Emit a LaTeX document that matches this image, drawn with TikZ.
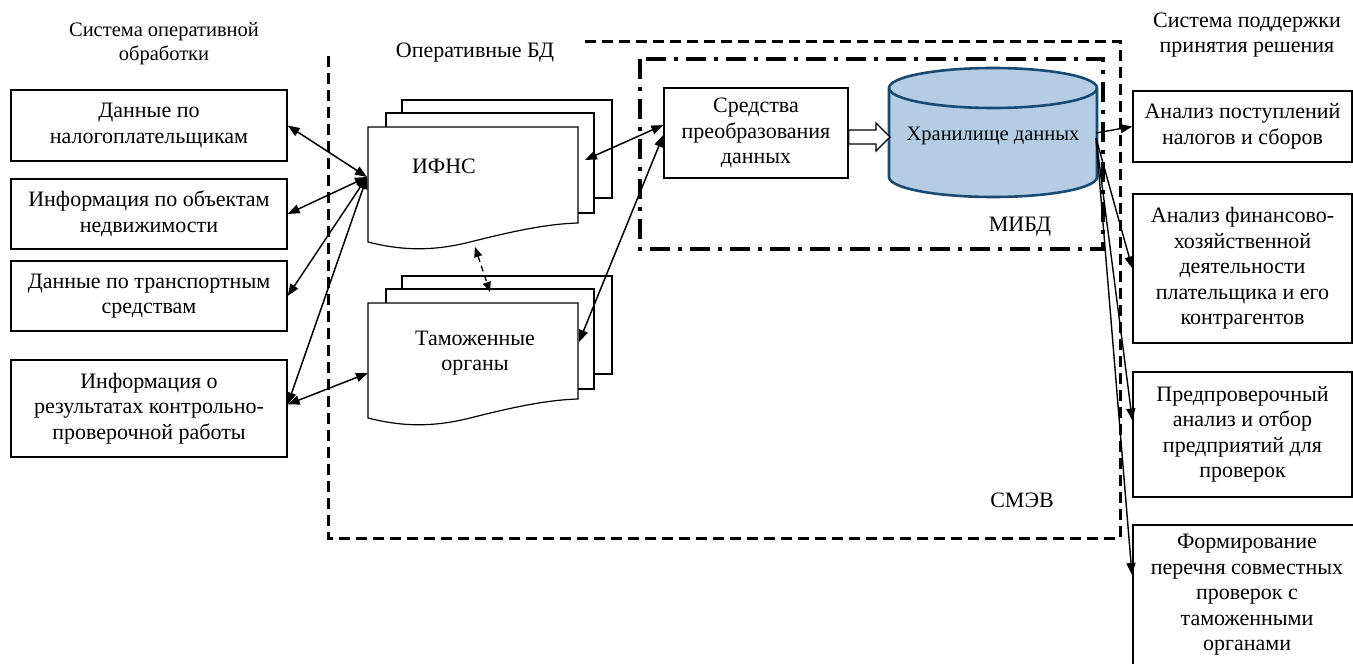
\documentclass[tikz,border=0pt]{standalone}
\usepackage{fontspec}
\setmainfont{Liberation Serif}
\usetikzlibrary{arrows.meta}
\definecolor{cylfill}{HTML}{B4CDE4}
\definecolor{cylline}{HTML}{1A4A72}
\begin{document}
\begin{tikzpicture}[x=1pt,y=-1pt,
  font=\fontsize{22}{25.5}\selectfont,
  box/.style={draw, line width=1.3pt, fill=white, align=center, inner sep=2pt},
  lbl/.style={align=center, inner sep=0pt},
  doc/.style={draw, line width=1.2pt, fill=white},
  conn/.style={line width=1.5pt, {Triangle[length=12pt,width=9pt]}-{Triangle[length=12pt,width=9pt]}},
  oneway/.style={line width=1.4pt, -{Triangle[length=12pt,width=9pt]}},
  dconn/.style={line width=1.3pt, dash pattern=on 6pt off 4pt, {Triangle[length=10pt,width=8pt]}-{Triangle[length=10pt,width=8pt]}},
  smev/.style={line width=3pt, dash pattern=on 11pt off 6pt},
  mibd/.style={line width=4.5pt, dash pattern=on 20pt off 8pt on 4pt off 8pt}]
\useasboundingbox (0,0) rectangle (1353,664);

% frames
\draw[smev] (585,41) -- (1120,41) -- (1120,538) -- (328,538) -- (328,50);
\draw[mibd] (640,59) rectangle (1103,249);

% labels
\node[lbl, font=\fontsize{20.5}{24}\selectfont] (lsys1) at (164,44) {Система оперативной\\обработки};
\node[lbl] (lopbd) at (475,53) {Оперативные БД};
\node[lbl] (lsys2) at (1247,35) {Система поддержки\\принятия решения};
\node[lbl] (lmibd) at (1020,227) {МИБД};
\node[lbl] (lsmev) at (1022,500) {СМЭВ};

% left boxes
\node[box, minimum width=276pt, minimum height=71pt] (b1) at (149,125.5) {Данные по\\налогоплательщикам};
\node[box, minimum width=276pt, minimum height=70pt] (b2) at (149,214) {Информация по объектам\\недвижимости};
\node[box, minimum width=276pt, minimum height=70pt] (b3) at (149,296) {Данные по транспортным\\средствам};
\node[box, minimum width=276pt, minimum height=97pt] (b4) at (149,408.5) {Информация о\\результатах контрольно-\\проверочной работы};

% document stacks
\draw[doc] (402,100) rectangle (612,198);
\draw[doc] (386,113) rectangle (594,213);
\draw[doc] (368,127) -- (578,127) -- (578,223) .. controls (545,224) and (510,232) .. (470,242) .. controls (430,252) and (400,250) .. (368,242) -- cycle;
\node[lbl] (ifns) at (444,166) {ИФНС};
\begin{scope}[shift={(0,176)}]
\draw[doc] (402,100) rectangle (612,198);
\draw[doc] (386,113) rectangle (594,213);
\draw[doc] (368,127) -- (578,127) -- (578,223) .. controls (545,224) and (510,232) .. (470,242) .. controls (430,252) and (400,250) .. (368,242) -- cycle;
\end{scope}
\node[lbl] (tam) at (475,353) {Таможенные\\органы};

\coordinate (ifnsL) at (367,177);
\coordinate (ifnsR) at (585,160);
\coordinate (ifnsB) at (475,247);
\coordinate (tamL) at (368,373);
\coordinate (tamR) at (579,342);
\coordinate (tamT) at (490,292);

% transformation box
\node[box, minimum width=184pt, minimum height=90pt] (sred) at (756,133) {Средства\\преобразования\\данных};

% cylinder
\draw[draw=cylline, fill=cylfill, line width=2.6pt] (889,88) -- (889,177)
  arc[start angle=180, end angle=0, x radius=104, y radius=20] -- (1097,88)
  arc[start angle=0, end angle=-180, x radius=104, y radius=20] -- cycle;
\draw[draw=cylline, line width=2.6pt] (889,88) arc[start angle=180, end angle=0, x radius=104, y radius=20];
\node[lbl, font=\fontsize{20.5}{24}\selectfont] (dw) at (993,136) {Хранилище данных};
\coordinate (dwR1) at (1096,133);
\coordinate (dwR2) at (1096,138);

% hollow arrow
\draw[line width=1.2pt, fill=white] (sred.east |- 0,130) -- (876,130) -- (876,123) -- (890,137) -- (876,151) -- (876,144) -- (sred.east |- 0,144) -- cycle;

% right boxes
\node[box, minimum width=219pt, minimum height=71pt] (r1) at (1242.5,126.5) {Анализ поступлений\\налогов и сборов};
\node[box, minimum width=219pt, minimum height=149pt] (r2) at (1242.5,268.5) {Анализ финансово-\\хозяйственной\\деятельности\\плательщика и его\\контрагентов};
\node[box, minimum width=219pt, minimum height=125pt] (r3) at (1242.5,434.5) {Предпроверочный\\анализ и отбор\\предприятий для\\проверок};
\node[lbl] (r4) at (1247,595) {Формирование\\перечня совместных\\проверок с\\таможенными\\органами};
\draw[line width=1.3pt] (1353,525) -- (1133,525) -- (1133,664);
\coordinate (r4in) at (1132,575);

% connectors
\draw[conn] (ifnsL) -- (b1.east);
\draw[conn] (ifnsL) -- (b2.east);
\draw[conn] (ifnsL) -- (b3.east);
\draw[conn] (ifnsL) -- ([yshift=4pt]b4.east);
\draw[conn] (tamL) -- ([yshift=4pt]b4.east);
\draw[conn] (ifnsR) -- ([yshift=8pt]sred.west);
\draw[conn] (tamR) -- ([yshift=-2pt]sred.west);
\draw[dconn] (ifnsB) -- (tamT);
\draw[oneway] (dwR1) -- (r1.west);
\draw[oneway] (dwR2) -- (r2.west);
\draw[oneway] (dwR2) -- ([yshift=14pt]r3.west);
\draw[oneway] (dwR2) -- (r4in);
\end{tikzpicture}
\end{document}
